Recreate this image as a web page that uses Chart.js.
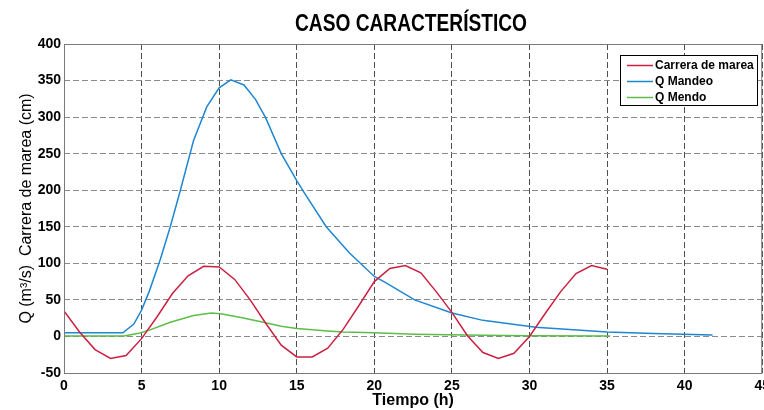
<!DOCTYPE html>
<html>
<head>
<meta charset="utf-8">
<script src="https://cdn.jsdelivr.net/npm/chart.js@4.4.1/dist/chart.umd.min.js"></script>
<style>
  html, body { margin: 0; padding: 0; background: #fff; overflow: hidden; }
  #wrap { width: 775px; height: 410px; }
</style>
</head>
<body>
<div id="wrap"><canvas id="grafica" width="775" height="410"></canvas></div>
<script>
// =================== Datos ===================
const TITULO = "CASO CARACTERÍSTICO";
const ETIQ_X = "Tiempo (h)";
const ETIQ_Y = "Q (m³/s)  Carrera de marea (cm)";

const SERIES = ["Carrera de marea", "Q Mandeo", "Q Mendo"];

// carrera de marea (cada hora)
const mareaT = [0, 1, 2, 3, 4, 5, 6, 7, 8, 9, 10, 11, 12, 13, 14, 15, 16, 17,
  18, 19, 20, 21, 22, 23, 24, 25, 26, 27, 28, 29, 30, 31, 32, 33, 34, 35];
const mareaCm = [35, 6, -18, -30, -26, -3, 27, 59, 83, 96, 95, 78, 50, 18, -12, -28, -28, -16,
  10, 42, 75, 93, 97, 87, 61, 33, 1, -22, -30, -23, 0, 31, 61, 86, 97, 92];

// caudal Mandeo
const mandeoT = [0, 3.8, 4.5, 5.0, 5.5, 6.2, 6.85, 7.5, 8.35, 9.2, 10, 10.75, 11.6, 12.35, 13,
  14, 15, 15.5, 16.9, 18.4, 20, 20.7, 22.6, 25, 27, 30.4, 35, 38, 41.8];
const mandeoQ = [5, 5, 17, 36, 62, 105, 150, 200, 268, 314, 340, 351, 344, 324, 299,
  250, 213, 196, 150, 114, 82, 74, 50, 32, 22, 12.5, 6, 4, 2];

// caudal Mendo
const mendoT = [0, 3.85, 4.9, 5.55, 6.85, 8.35, 9.5, 10.1, 11.4, 12.7, 14, 15, 16, 17, 18,
  20, 22.6, 27, 30, 35.2];
const mendoQ = [0.5, 0.5, 4.6, 9, 19.5, 28.7, 32, 31, 26, 20, 14, 11, 9, 7.5, 6,
  5, 3, 1.6, 1, 0.5];

// ejes
const X_MIN = 0, X_MAX = 45, X_PASO = 5;
const Y_MIN = -50, Y_MAX = 400, Y_PASO = 50;

const COLORES = ["#cc2040", "#1f86d2", "#5cbd48"];

// =================== Helpers ===================
const pares = (xs, ys) => xs.map((x, i) => ({ x, y: ys[i] }));

const FUENTE = "'Liberation Sans', Arial, sans-serif";

// título (comprimido, la fuente original es estrecha), marco y leyenda
const extras = {
  id: "extras",
  afterDraw(chart) {
    const { ctx, chartArea: a } = chart;
    ctx.save();
    ctx.setLineDash([]);
    ctx.strokeStyle = "#7a7a7a";
    ctx.lineWidth = 1;
    ctx.strokeRect(a.left + 0.5, a.top + 0.5, a.right - a.left - 1, a.bottom - a.top);

    // leyenda
    const lx = 620.5, ly = 55.5, lw = 137, lh = 50;
    ctx.fillStyle = "#fff";
    ctx.fillRect(lx, ly, lw, lh);
    ctx.strokeStyle = "#000";
    ctx.strokeRect(lx, ly, lw, lh);
    ctx.font = "bold 12px " + FUENTE;
    ctx.textBaseline = "middle";
    chart.data.datasets.forEach((ds, i) => {
      const y = 65 + i * 16;
      ctx.strokeStyle = ds.borderColor;
      ctx.lineWidth = 1.5;
      ctx.beginPath();
      ctx.moveTo(627, y + 0.5);
      ctx.lineTo(653, y + 0.5);
      ctx.stroke();
      ctx.fillStyle = "#000";
      ctx.fillText(ds.label, 655, y + 1);
    });

    // título
    ctx.font = "bold 24px " + FUENTE;
    ctx.textBaseline = "alphabetic";
    ctx.textAlign = "center";
    const w = ctx.measureText(TITULO).width;
    ctx.translate(411, 31);
    ctx.scale(232 / w, 1);
    ctx.fillStyle = "#000";
    ctx.fillText(TITULO, 0, 0);
    ctx.restore();
  }
};

// =================== Chart ===================
const ctx = document.getElementById("grafica").getContext("2d");

const chart = new Chart(ctx, {
  type: "line",
  data: {
    datasets: [
      { label: SERIES[0], data: pares(mareaT, mareaCm), borderColor: COLORES[0], borderWidth: 1.5 },
      { label: SERIES[1], data: pares(mandeoT, mandeoQ), borderColor: COLORES[1], borderWidth: 1.5 },
      { label: SERIES[2], data: pares(mendoT, mendoQ), borderColor: COLORES[2], borderWidth: 1.5 }
    ]
  },
  options: {
    responsive: false,
    animation: false,
    devicePixelRatio: 1,
    layout: { padding: { left: 0, right: 8, top: 44, bottom: 0 } },
    elements: { point: { radius: 0 }, line: { tension: 0 } },
    plugins: {
      legend: { display: false },
      tooltip: { enabled: false },
      title: { display: false }
    },
    scales: {
      x: {
        type: "linear",
        min: X_MIN,
        max: X_MAX,
        ticks: {
          stepSize: X_PASO,
          color: "#000",
          padding: 5,
          maxRotation: 0,
          font: { family: FUENTE, size: 14, weight: "bold" }
        },
        grid: { color: "#4f4f4f", lineWidth: 1, drawTicks: false },
        border: { display: false, dash: [6, 3] },
        title: {
          display: true,
          text: ETIQ_X,
          color: "#000",
          padding: { top: 1, bottom: 0 },
          font: { family: FUENTE, size: 16, weight: "bold" }
        },
        afterFit: (s) => { s.height = 37; }
      },
      y: {
        min: Y_MIN,
        max: Y_MAX,
        ticks: {
          stepSize: Y_PASO,
          color: "#000",
          padding: 3,
          font: { family: FUENTE, size: 14, weight: "bold" }
        },
        grid: { color: "#8a8a8a", lineWidth: 1, drawTicks: false },
        border: { display: false, dash: [6, 3] },
        title: {
          display: true,
          text: ETIQ_Y,
          color: "#000",
          padding: { top: 17, bottom: 0 },
          font: { family: FUENTE, size: 16, weight: "normal" }
        },
        afterFit: (s) => { s.width = 64; }
      }
    }
  },
  plugins: [extras]
});
</script>
</body>
</html>
